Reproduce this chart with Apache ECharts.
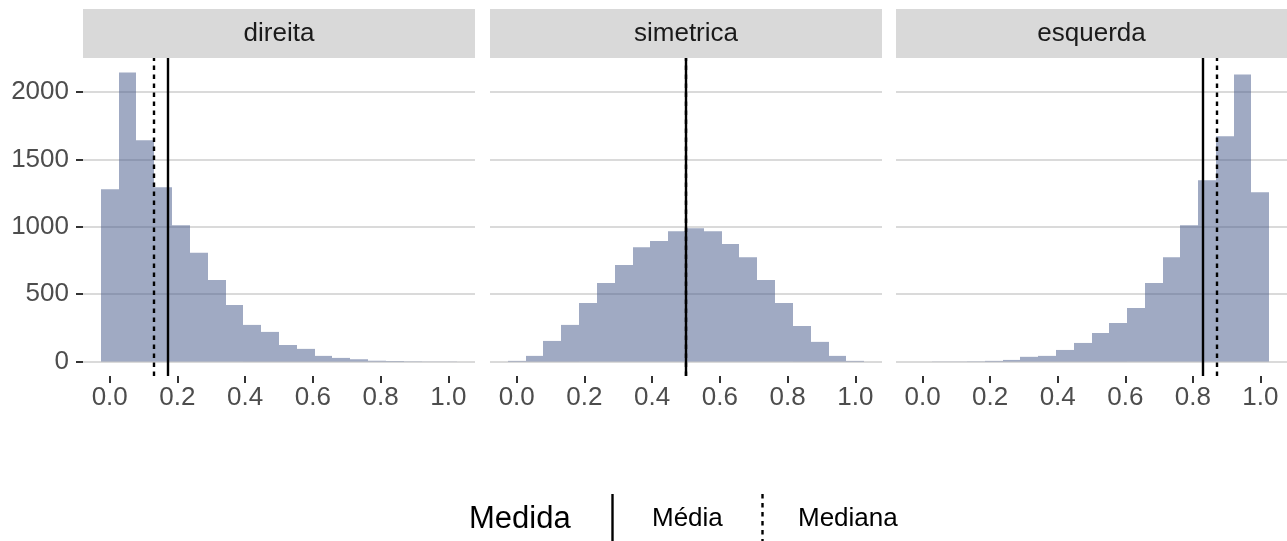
<!DOCTYPE html>
<html>
<head>
<meta charset="utf-8">
<script src="https://cdn.jsdelivr.net/npm/echarts@6/dist/echarts.min.js"></script>
<style>
  html, body { margin: 0; padding: 0; background: #ffffff; }
  #chart { width: 1287px; height: 541px; }
</style>
</head>
<body>
<div id="chart"></div>
<script>
// Facet names, in drawing order
const panels = ['direita', 'simetrica', 'esquerda'];

// Histogram counts, 20 bins centred on 0, 1/19, 2/19, ..., 1
const direita   = [1279, 2146, 1642, 1294, 1012, 807, 605, 420, 272, 220, 123, 94, 42, 27, 17, 6, 4, 2, 1, 1];
const simetrica = [5, 42, 153, 272, 435, 583, 716, 849, 894, 968, 990, 968, 872, 775, 605, 435, 264, 146, 42, 5];
const esquerda  = [0, 1, 1, 2, 5, 12, 35, 42, 86, 138, 212, 286, 398, 583, 775, 1012, 1346, 1672, 2131, 1257];

// Summary measures per facet
const medias   = [0.1667, 0.5, 0.8333];
const medianas = [0.129, 0.501, 0.871];

// Axis ticks
const xTicks = [0, 0.2, 0.4, 0.6, 0.8, 1.0];
const yTicks = [0, 500, 1000, 1500, 2000];

// Legend entries
const legendTitle = 'Medida';
const legendLabels = ['Média', 'Mediana'];

const counts = [direita, simetrica, esquerda];
const nBins = direita.length;
const binWidth = 1 / (nBins - 1);

// Scale limits with 5% padding on each side
const xLo = -binWidth / 2, xHi = 1 + binWidth / 2;
const xPad = (xHi - xLo) * 0.05;
const yMaxData = Math.max(...counts.flat());
const yPad = yMaxData * 0.05;

const FONT = 'Liberation Sans, Arial, Helvetica, sans-serif';
const barFill = 'rgba(65, 85, 135, 0.5)';
const dashPattern = [4.5, 4.5];

const panelLeft = [83, 490, 896];
const panelWidth = [392, 392, 391];
const panelTop = 58, panelHeight = 318;
const stripTop = 9, stripHeight = 49;

const grids = [], xAxes = [], yAxes = [], series = [], graphics = [];

panels.forEach((name, k) => {
  grids.push({ left: panelLeft[k], top: panelTop, width: panelWidth[k], height: panelHeight, containLabel: false });

  xAxes.push({
    type: 'value', gridIndex: k, position: 'bottom',
    min: xLo - xPad, max: xHi + xPad,
    axisLine: { show: false, onZero: false },
    axisTick: { show: true, customValues: xTicks, length: 7, lineStyle: { color: '#333333', width: 2 } },
    axisLabel: {
      customValues: xTicks, formatter: v => v.toFixed(1),
      color: '#4D4D4D', fontSize: 26, fontFamily: FONT, margin: 9
    },
    splitLine: { show: false }
  });

  yAxes.push({
    type: 'value', gridIndex: k, position: 'left',
    min: -yPad, max: yMaxData + yPad,
    axisLine: { show: false, onZero: false },
    axisTick: { show: k === 0, customValues: yTicks, length: 7, lineStyle: { color: '#333333', width: 2 } },
    axisLabel: {
      show: k === 0, customValues: yTicks, formatter: v => String(v),
      color: '#4D4D4D', fontSize: 26, fontFamily: FONT, margin: 14
    },
    splitLine: { show: true, lineStyle: { color: '#DADADA', width: 2 } }
  });

  // Histogram bars (edges snapped to whole pixels so neighbours meet cleanly)
  series.push({
    type: 'custom', name: name, xAxisIndex: k, yAxisIndex: k, z: 2, silent: true,
    data: counts[k].map((c, i) => [i * binWidth, c]),
    renderItem: (params, api) => {
      const x = api.value(0), y = api.value(1);
      const p0 = api.coord([x - binWidth / 2, 0]);
      const p1 = api.coord([x + binWidth / 2, y]);
      const xl = Math.round(p0[0]), xr = Math.round(p1[0]);
      return {
        type: 'rect',
        shape: { x: xl, y: p1[1], width: xr - xl, height: p0[1] - p1[1] },
        style: { fill: barFill }
      };
    }
  });

  // Mean (solid) and median (dotted) reference lines
  series.push({
    type: 'line', xAxisIndex: k, yAxisIndex: k, z: 3, data: [], silent: true,
    markLine: {
      silent: true, symbol: ['none', 'none'], label: { show: false },
      animation: false,
      data: [
        { xAxis: medias[k], lineStyle: { color: '#000000', width: 2.4, type: 'solid' } },
        { xAxis: medianas[k], lineStyle: { color: '#000000', width: 2.4, type: dashPattern } }
      ]
    }
  });

  // Facet strip
  graphics.push({
    type: 'rect', left: panelLeft[k], top: stripTop, silent: true,
    shape: { width: panelWidth[k], height: stripHeight },
    style: { fill: '#D9D9D9' }
  });
  graphics.push({
    type: 'text', x: panelLeft[k] + panelWidth[k] / 2, y: stripTop + stripHeight / 2, silent: true,
    style: { text: name, fill: '#1A1A1A', font: '26px ' + FONT, textAlign: 'center', textVerticalAlign: 'middle' }
  });
});

// Legend: title, solid key, dotted key
const legY = 519;
graphics.push(
  { type: 'text', x: 469, y: legY, silent: true,
    style: { text: legendTitle, fill: '#000000', font: '31px ' + FONT, textAlign: 'left', textVerticalAlign: 'middle' } },
  { type: 'line', silent: true, shape: { x1: 612.5, y1: legY - 25, x2: 612.5, y2: legY + 25 },
    style: { stroke: '#000000', lineWidth: 2.4 } },
  { type: 'text', x: 652, y: legY, silent: true,
    style: { text: legendLabels[0], fill: '#000000', font: '26px ' + FONT, textAlign: 'left', textVerticalAlign: 'middle' } },
  { type: 'line', silent: true, shape: { x1: 762.5, y1: legY - 25, x2: 762.5, y2: legY + 25 },
    style: { stroke: '#000000', lineWidth: 2.4, lineDash: dashPattern } },
  { type: 'text', x: 798, y: legY, silent: true,
    style: { text: legendLabels[1], fill: '#000000', font: '26px ' + FONT, textAlign: 'left', textVerticalAlign: 'middle' } }
);

const chart = echarts.init(document.getElementById('chart'), null, { renderer: 'canvas' });
chart.setOption({
  animation: false,
  backgroundColor: '#ffffff',
  grid: grids,
  xAxis: xAxes,
  yAxis: yAxes,
  series: series,
  graphic: graphics
});
</script>
</body>
</html>
